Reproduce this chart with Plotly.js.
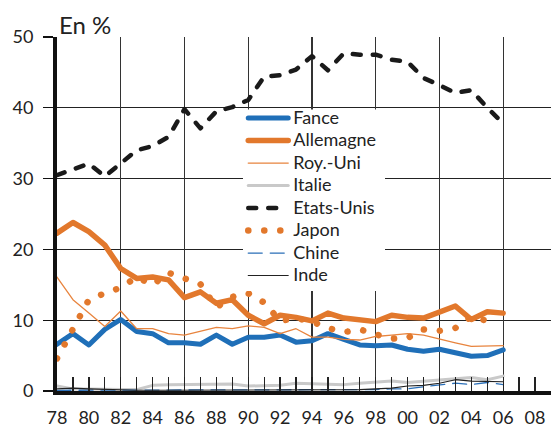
<!DOCTYPE html>
<html>
<head>
<meta charset="utf-8">
<script src="https://cdn.plot.ly/plotly-3.0.1.min.js"></script>
<style>
html,body{margin:0;padding:0;background:#fff;}
.js-line{stroke-linecap:round !important;stroke-linejoin:round !important;}
.legendtext{font-size:18px !important;}
</style>
</head>
<body>
<div id="chart" style="width:552px;height:429px;"></div>
<script>
const years = [1978,1979,1980,1981,1982,1983,1984,1985,1986,1987,1988,1989,1990,1991,1992,1993,1994,1995,1996,1997,1998,1999,2000,2001,2002,2003,2004,2005,2006];
const tickYears = [1978,1980,1982,1984,1986,1988,1990,1992,1994,1996,1998,2000,2002,2004,2006,2008];
const tickLabels = ['78','80','82','84','86','88','90','92','94','96','98','00','02','04','06','08'];

const france    = [6.6,8.1,6.5,8.7,10.1,8.4,8.1,6.8,6.8,6.6,7.9,6.6,7.6,7.6,7.9,6.9,7.1,8.1,7.3,6.5,6.4,6.5,5.9,5.6,5.9,5.4,4.9,5.0,5.8];
const allemagne = [22.3,23.8,22.5,20.6,17.3,15.9,16.1,15.7,13.2,14.0,12.4,12.9,10.7,9.5,10.7,10.4,9.9,11.0,10.3,10.1,9.8,10.7,10.4,10.3,11.1,12.0,10.1,11.2,11.0];
const royUni    = [16.1,12.9,11.0,9.1,11.3,8.8,8.8,8.1,7.9,8.4,9.0,8.8,9.2,9.0,8.1,8.8,7.6,7.6,7.3,7.2,7.7,7.9,8.1,7.9,7.3,6.8,6.3,6.4,6.4];
const italie    = [0.7,0.3,0.3,0.2,0.2,0.2,0.8,0.9,0.9,1.0,1.0,1.0,0.7,0.7,0.8,1.1,1.0,1.0,0.9,1.1,1.3,1.4,1.2,1.4,1.6,1.8,1.9,1.6,2.1];
const etatsUnis = [30.5,31.3,32.1,30.3,32.2,34.0,34.6,35.9,39.8,37.1,39.5,40.1,41.1,44.4,44.6,45.4,47.3,45.3,47.7,47.5,47.5,46.8,46.5,44.2,43.2,42.1,42.5,40.0,37.8];
const japon     = [4.6,8.8,12.9,13.8,14.6,16.1,15.0,16.7,15.8,15.1,11.8,13.3,13.8,12.5,9.9,10.3,9.8,8.9,8.3,8.7,8.0,7.4,7.5,8.7,8.5,8.9,10.5,9.9];
const chine     = [0.1,0.1,0.2,0.1,0.1,0.1,0.1,0.1,0.1,0.1,0.1,0.1,0.1,0.1,0.1,0.1,0.1,0.1,0.1,0.1,0.2,0.3,0.3,0.6,0.9,1.1,0.9,1.2,0.9];
const inde      = [0.3,0.4,0.3,0.2,0.1,0.1,0.1,0.1,0.1,0.1,0.1,0.1,0.1,0.1,0.1,0.1,0.1,0.1,0.1,0.2,0.3,0.4,0.7,0.8,1.1,1.6,1.4,1.3,1.3];

const allYears = [];
for (let y = 1978; y <= 2008; y++) allYears.push(y);
const allText = allYears.map(y => { const i = tickYears.indexOf(y); return i >= 0 ? tickLabels[i] : ''; });

const traces = [
  {name:'Fance', y:france, line:{color:'#1f6fb8', width:5}},
  {name:'Allemagne', y:allemagne, line:{color:'#e2782c', width:5.5}},
  {name:'Roy.-Uni', y:royUni, line:{color:'#e8843e', width:1.3}},
  {name:'Italie', y:italie, line:{color:'#c9c9c9', width:3}},
  {name:'Etats-Unis', y:etatsUnis, line:{color:'#1a1a1a', width:4.5, dash:'8px,12px'}},
  {name:'Japon', y:japon, x:years.slice(0, japon.length), line:{color:'#e2782c', width:6.5, dash:'0.1px,15.9px'}},
  {name:'Chine', y:chine, line:{color:'#2a6fb8', width:1.3, dash:'14px,8px'}},
  {name:'Inde', y:inde, line:{color:'#222222', width:1.1}}
].map(t => Object.assign({x: years, type:'scatter', mode:'lines', hoverinfo:'skip'}, t));

// helper trace so the 4-year grid axis is drawn
traces.unshift({x:[null], y:[null], xaxis:'x2', yaxis:'y', type:'scatter', mode:'lines', showlegend:false, hoverinfo:'skip'});

const layout = {
  width:552, height:429,
  margin:{l:57, r:1, t:37, b:38},
  paper_bgcolor:'#fff', plot_bgcolor:'#fff',
  font:{family:'Lato, "Noto Sans", sans-serif', color:'#222', size:18},
  showlegend:true,
  legend:{x:0.377, xanchor:'left', y:0.817, yanchor:'top', bgcolor:'rgba(255,255,255,0)', borderwidth:0,
          font:{size:15, color:'#222'}, tracegroupgap:0, itemwidth:40},
  shapes:[{type:'rect', xref:'paper', yref:'paper', x0:0.3765, x1:0.664, y0:0.2825, y1:0.795,
           fillcolor:'#ffffff', line:{width:0}, layer:'above'}],
  xaxis:{range:[1978,2009], tickmode:'array', tickvals:allYears, ticktext:allText,
         ticks:'inside', ticklen:14, tickwidth:1.3, tickcolor:'#222',
         showgrid:false, zeroline:false, showline:true, linewidth:4, linecolor:'#111',
         ticklabelstandoff:7, tickfont:{size:18, color:'#222'}, fixedrange:true},
  xaxis2:{range:[1978,2009], overlaying:'x', anchor:'y', side:'bottom', tickmode:'linear', tick0:1978, dtick:4,
          showgrid:true, gridcolor:'#333', gridwidth:1.3, showticklabels:false, ticks:'',
          zeroline:false, showline:false, fixedrange:true},
  yaxis:{range:[0,50], dtick:10, ticks:'outside', ticklen:10, tickwidth:1.3, tickcolor:'#111',
         showgrid:true, gridcolor:'#222', gridwidth:1.3, zeroline:false,
         showline:true, linewidth:4, linecolor:'#111', ticklabelstandoff:6,
         tickfont:{size:18, color:'#222'}, fixedrange:true},
  annotations:[{text:'En %', xref:'paper', yref:'paper', x:0, y:1.034, xanchor:'left', yanchor:'middle',
                showarrow:false, font:{size:24, color:'#222'}}]
};

Plotly.newPlot('chart', traces, layout, {staticPlot:true, displayModeBar:false});
</script>
</body>
</html>
